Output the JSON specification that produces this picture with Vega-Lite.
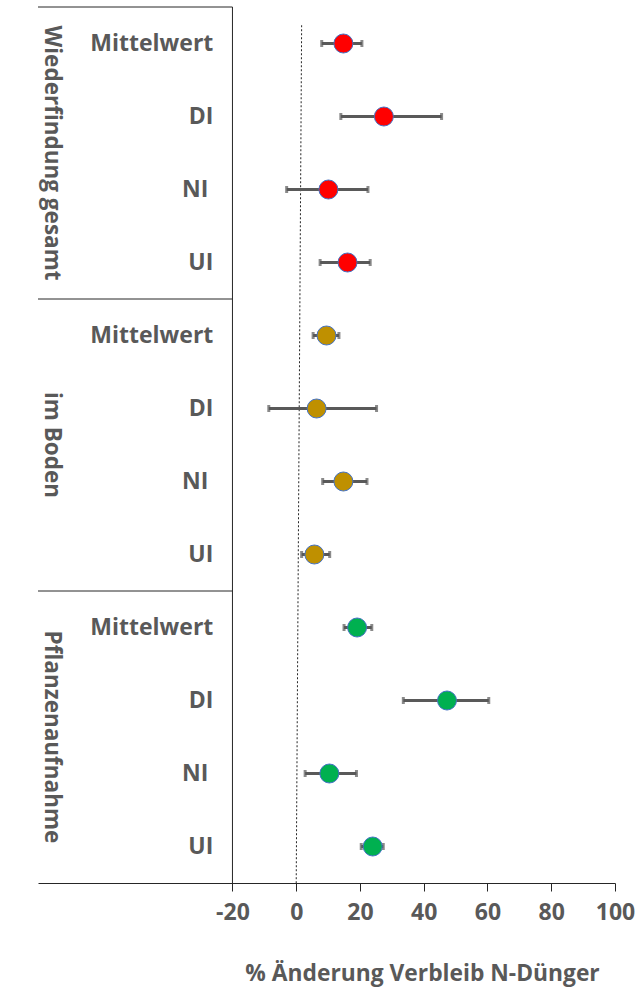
{
  "$schema": "https://vega.github.io/schema/vega-lite/v6.json",
  "width": 577,
  "height": 876,
  "autosize": {"type": "none"},
  "padding": {"left": 38, "top": 7, "right": 20, "bottom": 107},
  "background": "white",
  "config": {
    "view": {"stroke": null},
    "font": "Open Sans",
    "text": {"font": "Open Sans", "fontWeight": "bold", "fill": "#595959"}
  },
  "datasets": {
    "effekte": [
      {"gruppe": "Wiederfindung gesamt", "zeile": "Mittelwert", "reihe": "Wiederfindung gesamt | Mittelwert", "wert": 14.8, "unten": 8.0, "oben": 20.6},
      {"gruppe": "Wiederfindung gesamt", "zeile": "DI", "reihe": "Wiederfindung gesamt | DI", "wert": 27.5, "unten": 14.0, "oben": 45.6},
      {"gruppe": "Wiederfindung gesamt", "zeile": "NI", "reihe": "Wiederfindung gesamt | NI", "wert": 10.1, "unten": -3.0, "oben": 22.5},
      {"gruppe": "Wiederfindung gesamt", "zeile": "UI", "reihe": "Wiederfindung gesamt | UI", "wert": 16.1, "unten": 7.5, "oben": 23.2},
      {"gruppe": "im Boden", "zeile": "Mittelwert", "reihe": "im Boden | Mittelwert", "wert": 9.5, "unten": 5.3, "oben": 13.4},
      {"gruppe": "im Boden", "zeile": "DI", "reihe": "im Boden | DI", "wert": 6.4, "unten": -8.6, "oben": 25.2},
      {"gruppe": "im Boden", "zeile": "NI", "reihe": "im Boden | NI", "wert": 14.8, "unten": 8.3, "oben": 22.2},
      {"gruppe": "im Boden", "zeile": "UI", "reihe": "im Boden | UI", "wert": 5.7, "unten": 1.7, "oben": 10.5},
      {"gruppe": "Pflanzenaufnahme", "zeile": "Mittelwert", "reihe": "Pflanzenaufnahme | Mittelwert", "wert": 19.1, "unten": 15.0, "oben": 23.7},
      {"gruppe": "Pflanzenaufnahme", "zeile": "DI", "reihe": "Pflanzenaufnahme | DI", "wert": 47.3, "unten": 33.6, "oben": 60.4},
      {"gruppe": "Pflanzenaufnahme", "zeile": "NI", "reihe": "Pflanzenaufnahme | NI", "wert": 10.4, "unten": 2.8, "oben": 18.9},
      {"gruppe": "Pflanzenaufnahme", "zeile": "UI", "reihe": "Pflanzenaufnahme | UI", "wert": 24.0, "unten": 20.4, "oben": 27.3}
    ]
  },
  "data": {"name": "effekte"},
  "resolve": {"scale": {"y": "shared", "x": "shared"}},
  "layer": [
    {
      "description": "Rahmenlinie links vom Diagrammbereich, mit der x-Achse",
      "data": {"values": [{}]},
      "mark": {"type": "rule", "color": "#262626", "strokeWidth": 1},
      "encoding": {
        "x": {"datum": -20, "type": "quantitative",
              "scale": {"domain": [-81, 100], "nice": false, "zero": false},
              "axis": {
                "values": [-20, 0, 20, 40, 60, 80, 100],
                "labelExpr": "replace(datum.label, '\u2212', '-')",
                "labelFlush": false,
                "labelOverlap": false,
                "grid": false,
                "domainColor": "#262626",
                "tickColor": "#262626",
                "tickSize": 8,
                "labelFont": "Open Sans",
                "labelFontWeight": "bold",
                "labelFontSize": 23,
                "labelColor": "#595959",
                "labelPadding": 10,
                "title": "% Änderung Verbleib N-Dünger",
                "titleFont": "Open Sans",
                "titleFontWeight": "bold",
                "titleFontSize": 22.8,
                "titleColor": "#595959",
                "titleAlign": "center",
                "titleBaseline": "alphabetic",
                "titleX": 384,
                "titleY": 97
              }}
      }
    },
    {
      "description": "Trennlinien zwischen den Gruppen",
      "transform": [{"filter": {"field": "zeile", "equal": "Mittelwert"}}],
      "mark": {"type": "rule", "color": "#262626", "strokeWidth": 1},
      "encoding": {
        "x": {"datum": -81, "type": "quantitative"},
        "x2": {"datum": -20},
        "y": {"field": "reihe", "type": "nominal", "bandPosition": 0,
              "scale": {"domain": [
                "Wiederfindung gesamt | Mittelwert", "Wiederfindung gesamt | DI", "Wiederfindung gesamt | NI", "Wiederfindung gesamt | UI",
                "im Boden | Mittelwert", "im Boden | DI", "im Boden | NI", "im Boden | UI",
                "Pflanzenaufnahme | Mittelwert", "Pflanzenaufnahme | DI", "Pflanzenaufnahme | NI", "Pflanzenaufnahme | UI"],
                "paddingInner": 0, "paddingOuter": 0},
              "axis": null}
      }
    },
    {
      "description": "Nulllinie",
      "data": {"values": [{}]},
      "mark": {"type": "rule", "color": "#262626", "strokeWidth": 1, "strokeDash": [2, 2]},
      "encoding": {
        "x": {"datum": 1.7, "type": "quantitative"},
        "x2": {"datum": 0},
        "y": {"datum": "Wiederfindung gesamt | Mittelwert", "type": "nominal", "bandPosition": 0.25},
        "y2": {"value": {"expr": "height"}}
      }
    },
    {
      "description": "Konfidenzintervalle",
      "mark": {"type": "rule", "color": "#595959", "strokeWidth": 3},
      "encoding": {
        "x": {"field": "unten", "type": "quantitative"},
        "x2": {"field": "oben"},
        "y": {"field": "reihe", "type": "nominal"}
      }
    },
    {
      "description": "Endstriche der Intervalle",
      "transform": [{"fold": ["unten", "oben"], "as": ["grenze", "grenzwert"]}],
      "mark": {"type": "tick", "color": "#595959", "size": 7, "thickness": 3, "orient": "vertical"},
      "encoding": {
        "x": {"field": "grenzwert", "type": "quantitative"},
        "y": {"field": "reihe", "type": "nominal"}
      }
    },
    {
      "description": "Punktschätzer",
      "mark": {"type": "point", "filled": true, "size": 361, "opacity": 1, "stroke": "#4472C4", "strokeWidth": 1},
      "encoding": {
        "x": {"field": "wert", "type": "quantitative"},
        "y": {"field": "reihe", "type": "nominal"},
        "color": {"field": "gruppe", "type": "nominal", "legend": null,
                  "scale": {"domain": ["Wiederfindung gesamt", "im Boden", "Pflanzenaufnahme"],
                            "range": ["#FF0000", "#BF9000", "#00B050"]}}
      }
    },
    {
      "description": "Zeilenbeschriftungen (ohne NI)",
      "transform": [{"filter": "datum.zeile !== 'NI'"}],
      "mark": {"type": "text", "align": "right", "baseline": "middle", "fontSize": 23},
      "encoding": {
        "x": {"datum": -26, "type": "quantitative"},
        "y": {"field": "reihe", "type": "nominal"},
        "text": {"field": "zeile"}
      }
    },
    {
      "description": "Zeilenbeschriftung NI, mit nachgestelltem Leerraum",
      "transform": [{"filter": {"field": "zeile", "equal": "NI"}}],
      "mark": {"type": "text", "align": "right", "baseline": "middle", "fontSize": 23, "dx": -5},
      "encoding": {
        "x": {"datum": -26, "type": "quantitative"},
        "y": {"field": "reihe", "type": "nominal"},
        "text": {"field": "zeile"}
      }
    },
    {
      "description": "Gruppenbeschriftungen, senkrecht",
      "transform": [{"filter": {"field": "zeile", "equal": "NI"}}],
      "mark": {"type": "text", "align": "center", "baseline": "middle", "angle": 90, "fontSize": 22.5},
      "encoding": {
        "x": {"datum": -76.6, "type": "quantitative"},
        "y": {"field": "reihe", "type": "nominal", "bandPosition": 0},
        "text": {"field": "gruppe"}
      }
    }
  ]
}
